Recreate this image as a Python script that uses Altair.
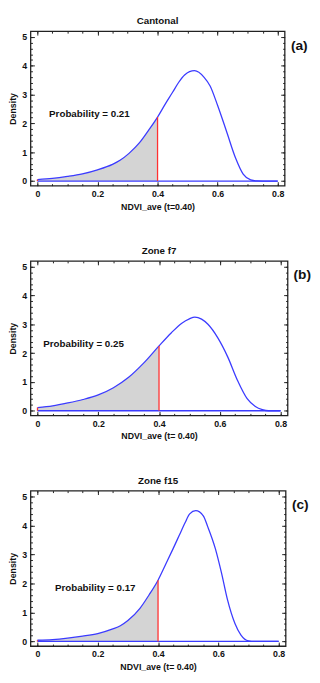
import altair as alt
import pandas as pd

# ---------------- data ----------------
titles = ["Cantonal", "Zone f7", "Zone f15"]
tags = ["(a)", "(b)", "(c)"]
x_titles = ["NDVI_ave (t=0.40)", "NDVI_ave (t= 0.40)", "NDVI_ave (t= 0.40)"]
prob_texts = ["Probability = 0.21", "Probability = 0.25", "Probability = 0.17"]
prob_x = [0.039, 0.019, 0.058]
prob_y = [2.32, 2.32, 1.85]
threshold = 0.4

x_a = [0, 0.05, 0.1, 0.15, 0.2, 0.25, 0.275, 0.305, 0.34, 0.37, 0.4, 0.425, 0.45, 0.47,
       0.49, 0.523, 0.555, 0.575, 0.6, 0.63, 0.66, 0.685, 0.71, 0.73, 0.75, 0.8]
d_a = [0.05, 0.09, 0.16, 0.25, 0.39, 0.58, 0.72, 0.96, 1.33, 1.76, 2.22, 2.66, 3.08, 3.42,
       3.68, 3.83, 3.6, 3.3, 2.62, 1.71, 0.79, 0.24, 0.04, 0.005, 0, 0]

x_b = [0, 0.05, 0.1, 0.15, 0.2, 0.25, 0.3, 0.35, 0.4, 0.44, 0.475, 0.5, 0.518, 0.54,
       0.561, 0.594, 0.626, 0.658, 0.69, 0.717, 0.74, 0.76, 0.8]
d_b = [0.11, 0.17, 0.27, 0.39, 0.55, 0.8, 1.16, 1.66, 2.25, 2.7, 3.04, 3.19, 3.25, 3.18,
       3.0, 2.52, 1.87, 1.06, 0.42, 0.15, 0.04, 0, 0]

x_c = [0, 0.05, 0.1, 0.15, 0.2, 0.25, 0.275, 0.3, 0.34, 0.37, 0.4, 0.425, 0.45, 0.47,
       0.49, 0.505, 0.525, 0.55, 0.565, 0.59, 0.61, 0.63, 0.655, 0.675, 0.7, 0.72, 0.8]
d_c = [0.04, 0.06, 0.11, 0.18, 0.27, 0.43, 0.54, 0.72, 1.14, 1.6, 2.11, 2.65, 3.2, 3.65,
       4.1, 4.4, 4.51, 4.33, 3.95, 3.2, 2.38, 1.45, 0.62, 0.22, 0.02, 0, 0]

x_major = [0, 0.2, 0.4, 0.6, 0.8]
x_minor = [round(i * 0.05, 2) for i in range(17)]
y_major = [0, 1, 2, 3, 4, 5]
y_minor = [round(i * 0.2, 1) for i in range(26)]

FONT = "Liberation Sans"
BLUE = "#3b3bff"
RED = "#ff3030"


def inward(n):
    return {"expr": str(-n)}


def edge_axis(orient, values, size, shift=0):
    # inward-pointing tick marks on the frame; far edges use the opposite orient
    # displaced across the plot so that their ticks point into the plot
    kw = dict(orient=orient, values=values, labels=False, title=None, domain=False,
              grid=False, tickColor="#222", minExtent=0, maxExtent=0)
    if shift:
        return alt.Axis(tickSize=size, offset=-shift, **kw)
    return alt.Axis(tickSize=inward(size), **kw)


def panel(xs, ds, title, tag, xtitle, ptext, px, py, w, h):
    df = pd.DataFrame({"x": xs, "d": ds})
    xsc = alt.Scale(domain=[-0.023, 0.823], nice=False, zero=False)
    ysc = alt.Scale(domain=[-0.16, 5.2], nice=False, zero=False)

    ax_bottom = alt.Axis(orient="bottom", values=x_major, format="~g", title=xtitle,
                         domain=False, grid=False, tickSize=inward(4), tickColor="#222",
                         labelPadding=8, labelFontSize=9, labelFontWeight="bold",
                         titleFontSize=9, titleFontWeight="bold", titlePadding=4,
                         labelFont=FONT, titleFont=FONT, labelColor="#111", titleColor="#111")
    ax_left = alt.Axis(orient="left", values=y_major, format="d", title="Density",
                       domain=False, grid=False, tickSize=inward(4), tickColor="#222",
                       labelPadding=8, labelFontSize=9, labelFontWeight="bold",
                       titleFontSize=9, titleFontWeight="bold", titlePadding=4,
                       labelFont=FONT, titleFont=FONT, labelColor="#111", titleColor="#111")

    area = alt.Chart(df).transform_filter(alt.datum.x <= threshold).mark_area(
        color="#d4d4d4", interpolate="monotone").encode(
        x=alt.X("x:Q", scale=xsc, axis=ax_bottom),
        y=alt.Y("d:Q", scale=ysc, axis=ax_left),
    )
    curve = alt.Chart(df).mark_line(color=BLUE, strokeWidth=1.3, interpolate="monotone").encode(
        x=alt.X("x:Q", scale=xsc, axis=edge_axis("bottom", x_major, 4, shift=h)),
        y=alt.Y("d:Q", scale=ysc, axis=edge_axis("left", y_major, 4, shift=w)),
    )
    base_df = pd.DataFrame({"x0": [0.0], "x1": [0.8], "y": [0.0]})
    baseline = alt.Chart(base_df).mark_rule(color=BLUE, strokeWidth=1.3).encode(
        x=alt.X("x0:Q", scale=xsc, axis=edge_axis("bottom", x_minor, 2)),
        x2="x1:Q",
        y=alt.Y("y:Q", scale=ysc, axis=edge_axis("left", y_minor, 2)),
    )
    d0 = ds[xs.index(0)]
    dt = ds[xs.index(threshold)]
    red_df = pd.DataFrame({"x": [0.0, threshold], "y": [d0, dt], "y0": [0.0, 0.0]})
    reds = alt.Chart(red_df).mark_rule(color=RED, strokeWidth=1.3).encode(
        x=alt.X("x:Q", scale=xsc, axis=edge_axis("bottom", x_minor, 2, shift=h)),
        y=alt.Y("y:Q", scale=ysc, axis=edge_axis("left", y_minor, 2, shift=w)),
        y2="y0:Q",
    )
    ptxt = alt.Chart(pd.DataFrame({"x": [px], "y": [py], "t": [ptext]})).mark_text(
        align="left", baseline="middle", fontSize=10, fontWeight="bold", font=FONT,
        color="#111").encode(
        x=alt.X("x:Q", scale=xsc, axis=None),
        y=alt.Y("y:Q", scale=ysc, axis=None),
        text="t:N",
    )
    tagtxt = alt.Chart(pd.DataFrame({"t": [tag]})).mark_text(
        align="center", baseline="middle", fontSize=14, fontWeight="bold", font=FONT,
        color="#111").encode(
        x=alt.value(w + 15), y=alt.value(15), text="t:N",
    )
    titletxt = alt.Chart(pd.DataFrame({"t": [title]})).mark_text(
        align="center", baseline="middle", fontSize=10, fontWeight="bold", font=FONT,
        color="#111").encode(
        x=alt.value(w / 2), y=alt.value(-10), text="t:N",
    )
    return alt.layer(area, baseline, curve, reds, ptxt, tagtxt, titletxt).resolve_axis(
        x="independent", y="independent").properties(width=w, height=h)


pa = panel(x_a, d_a, titles[0], tags[0], x_titles[0], prob_texts[0], prob_x[0], prob_y[0], 260, 158)
pb = panel(x_b, d_b, titles[1], tags[1], x_titles[1], prob_texts[1], prob_x[1], prob_y[1], 263, 158)
pc = panel(x_c, d_c, titles[2], tags[2], x_titles[2], prob_texts[2], prob_x[2], prob_y[2], 261, 159)

chart = alt.vconcat(pa, pb, pc, spacing=34).properties(padding=0).configure_view(
    stroke="#222", strokeWidth=1.3)

chart.save("out.html", embed_options={"renderer": "svg", "actions": False})
